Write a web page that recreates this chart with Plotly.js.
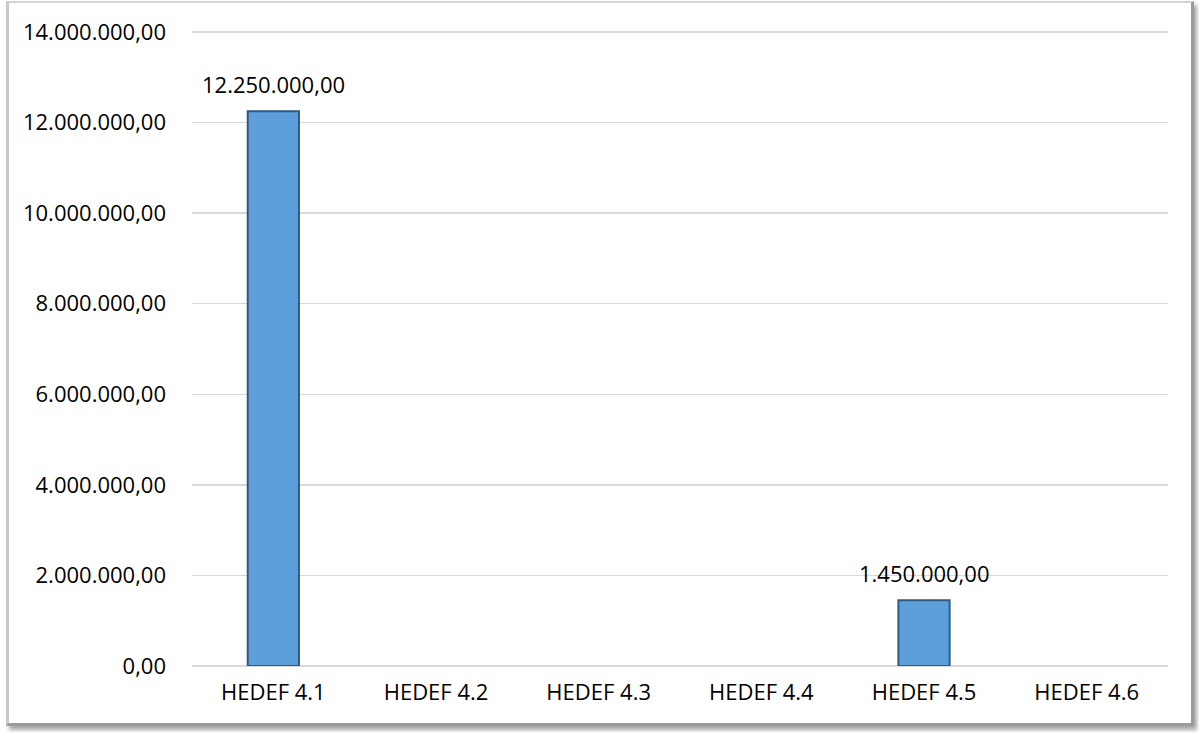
<!DOCTYPE html>
<html>
<head>
<meta charset="utf-8">
<script src="https://cdn.plot.ly/plotly-3.0.1.min.js"></script>
<style>
  html, body { margin: 0; padding: 0; background: #ffffff; }
  #wrap { position: relative; width: 1199px; height: 733px; }
  #chart { position: absolute; left: 0; top: 0; width: 1199px; height: 733px; }
  #frame {
    position: absolute; left: 6px; top: 1px; width: 1182px; height: 720px;
    border: 2px solid #d4d4d4; border-left: 3px solid #c8c8c8; border-right: 3px solid #9a9a9a; border-bottom: 3px solid #9a9a9a;
    box-shadow: 3px 4px 4px rgba(0,0,0,0.35);
    pointer-events: none;
  }
</style>
</head>
<body>
<div id="wrap">
  <div id="chart"></div>
  <div id="frame"></div>
</div>
<script>
const categories = ['HEDEF 4.1', 'HEDEF 4.2', 'HEDEF 4.3', 'HEDEF 4.4', 'HEDEF 4.5', 'HEDEF 4.6'];
const values = [12250000, 0, 0, 0, 1450000, 0];
const tickValues = [0, 2000000, 4000000, 6000000, 8000000, 10000000, 12000000, 14000000];

const fontFamily = '"Open Sans", "Noto Sans", sans-serif';
const fontSize = 22;

function fmt(v) {
  const parts = v.toFixed(2).split('.');
  return parts[0].replace(/\B(?=(\d{3})+(?!\d))/g, '.') + ',' + parts[1];
}

const trace = {
  type: 'bar',
  x: categories,
  y: values,
  width: 0.315,
  marker: {
    color: '#5d9fdb',
    line: { color: '#2f5a82', width: values.map(v => v > 0 ? 2 : 0) }
  },
  hoverinfo: 'x+y'
};

const annotations = categories.map((c, i) => values[i] > 0 ? {
  x: c, y: values[i], xref: 'x', yref: 'y',
  text: fmt(values[i]), showarrow: false,
  yanchor: 'bottom', yshift: 10,
  font: { family: fontFamily, size: fontSize, color: '#000000' }
} : null).filter(a => a);

const layout = {
  width: 1199, height: 733,
  margin: { l: 192, r: 31, t: 30, b: 67 },
  paper_bgcolor: '#ffffff',
  plot_bgcolor: '#ffffff',
  separators: ',.',
  showlegend: false,
  font: { family: fontFamily, size: fontSize, color: '#000000' },
  xaxis: {
    type: 'category',
    showgrid: false,
    showline: false,
    ticks: '',
    tickfont: { family: fontFamily, size: fontSize, color: '#000000' },
    ticklabelstandoff: 11
  },
  yaxis: {
    range: [0, 14045000],
    tickvals: tickValues,
    tickformat: ',.2f',
    showgrid: true,
    gridcolor: '#d9d9d9',
    gridwidth: 1.5,
    zeroline: true,
    zerolinecolor: '#d9d9d9',
    zerolinewidth: 1.5,
    showline: false,
    ticks: '',
    ticklabelstandoff: 25,
    tickfont: { family: fontFamily, size: fontSize, color: '#000000' }
  },
  annotations: annotations
};

Plotly.newPlot('chart', [trace], layout, { displayModeBar: false, staticPlot: true });
</script>
</body>
</html>
